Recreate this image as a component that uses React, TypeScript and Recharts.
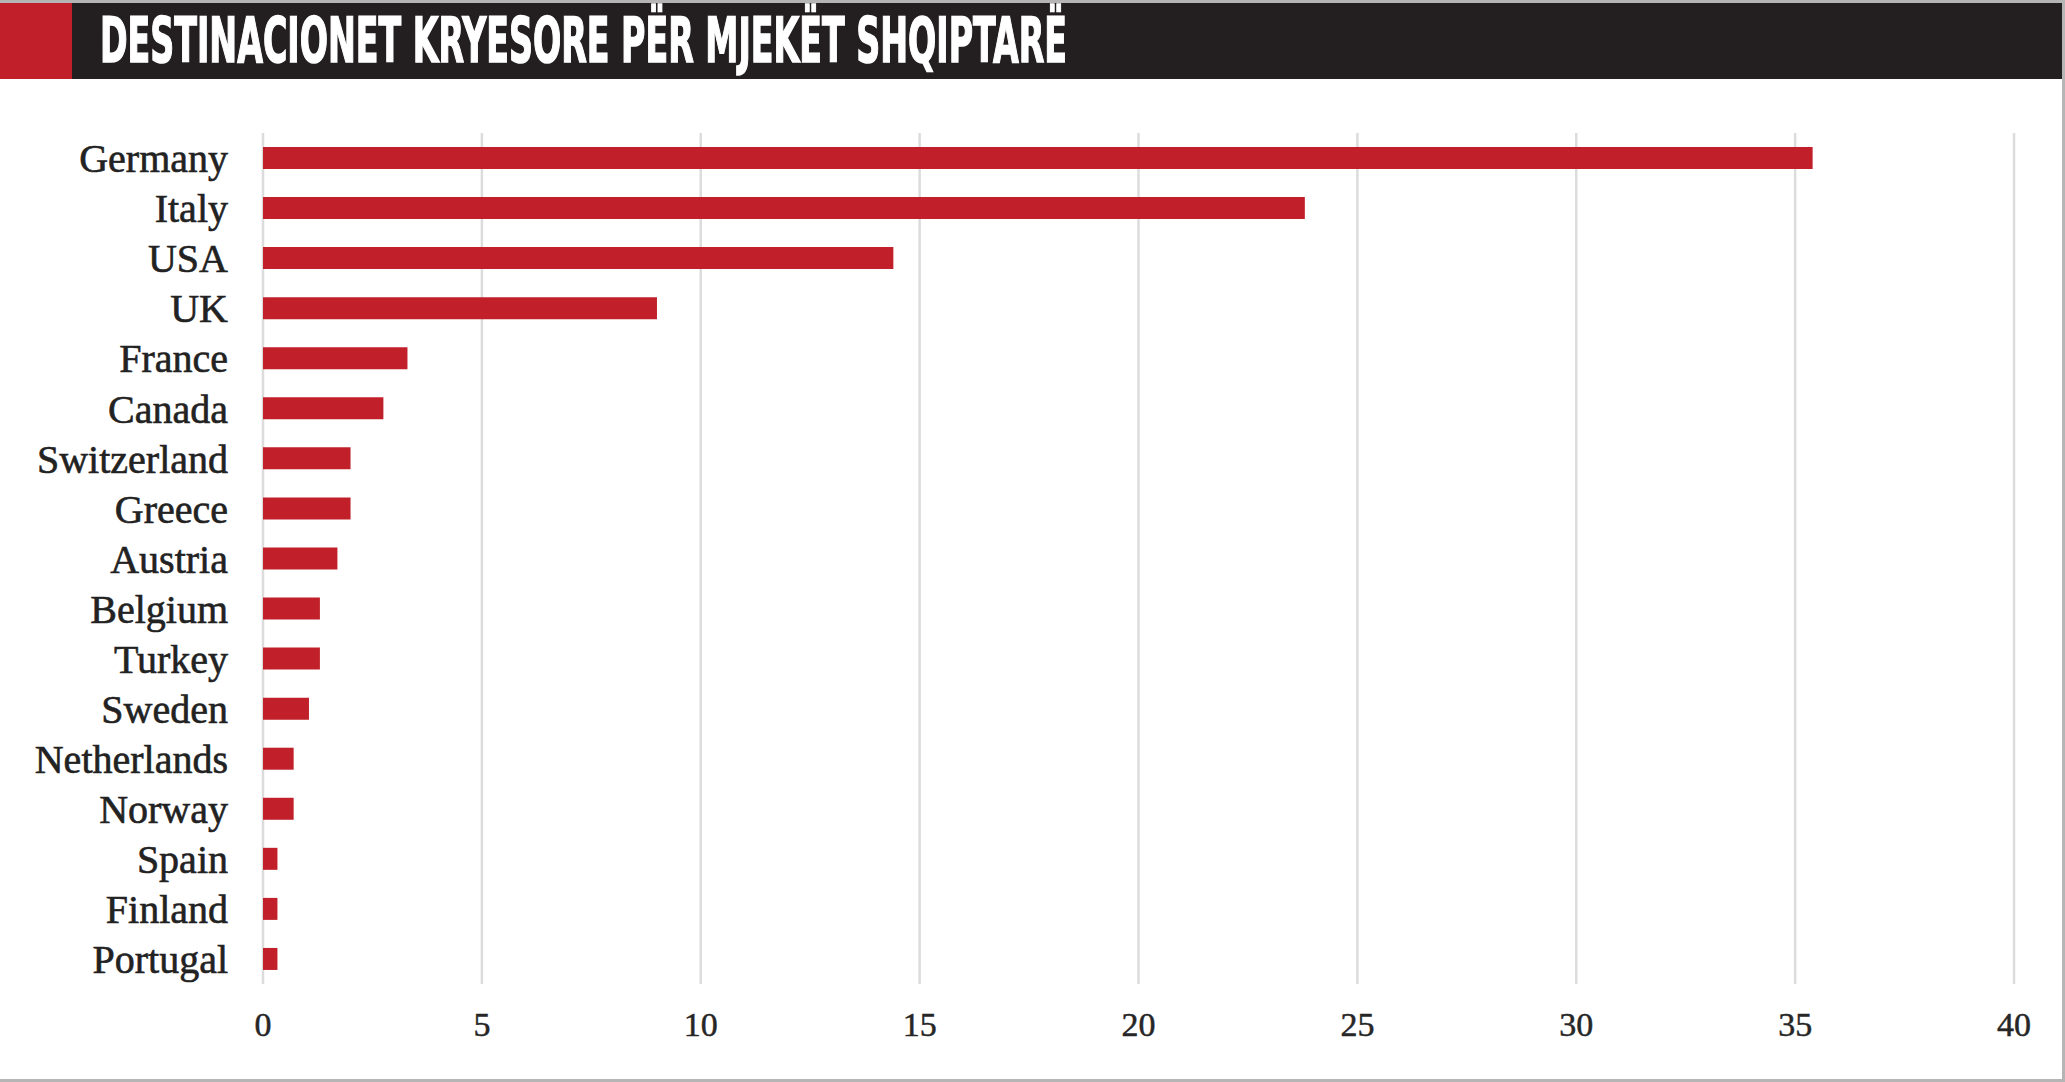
import React from 'react';
import { BarChart, Bar, XAxis, YAxis, CartesianGrid } from 'recharts';

const countries = [
    'Germany', 'Italy', 'USA', 'UK', 'France', 'Canada', 'Switzerland', 'Greece', 'Austria',
    'Belgium', 'Turkey', 'Sweden', 'Netherlands', 'Norway', 'Spain', 'Finland', 'Portugal',
];
const shares = [35.4, 23.8, 14.4, 9.0, 3.3, 2.75, 2.0, 2.0, 1.7, 1.3, 1.3, 1.05, 0.7, 0.7, 0.33, 0.33, 0.33];
const xTicks = [0, 5, 10, 15, 20, 25, 30, 35, 40];
const title = 'DESTINACIONET KRYESORE PËR MJEKËT SHQIPTARË';

const chartData = countries.map((name, i) => ({ name, value: shares[i] }));

const App: React.FC = () => {
    return (
        <div
            style={{
                position: 'absolute',
                left: 0,
                top: 0,
                width: 2065,
                height: 1082,
                background: '#fff',
                overflow: 'hidden',
            }}
        >
            {/* header band */}
            <svg width={2065} height={82} style={{ position: 'absolute', left: 0, top: 0 }}>
                <rect x={0} y={0} width={2065} height={3} fill="#b5b5b5" />
                <rect x={0} y={3} width={2062} height={76} fill="#231f20" />
                <rect x={0} y={3} width={72} height={76} fill="#c1202a" />
                <text
                    x={100}
                    y={62}
                    fill="#ffffff"
                    stroke="#ffffff"
                    strokeWidth={1.5}
                    fontSize={63}
                    fontWeight="bold"
                    fontFamily="'DejaVu Sans Condensed', 'DejaVu Sans', sans-serif"
                    textLength={967}
                    lengthAdjust="spacingAndGlyphs"
                >
                    {title}
                </text>
            </svg>

            <div style={{ position: 'absolute', left: 0, top: 0 }}>
                <BarChart
                    width={2065}
                    height={1082}
                    data={chartData}
                    layout="vertical"
                    margin={{ top: 133, right: 51, left: 0, bottom: 38 }}
                >
                    <CartesianGrid horizontal={false} stroke="#dcdcdc" strokeWidth={2.5} />
                    <XAxis
                        type="number"
                        domain={[0, 40]}
                        ticks={xTicks}
                        axisLine={false}
                        tickLine={false}
                        height={60}
                        tickMargin={22}
                        tick={{
                            fill: '#262626',
                            stroke: '#262626',
                            strokeWidth: 0.5,
                            fontSize: 34,
                            fontFamily: "'Liberation Serif', serif",
                        }}
                    />
                    <YAxis
                        type="category"
                        dataKey="name"
                        width={263}
                        axisLine={false}
                        tickLine={false}
                        tickMargin={29}
                        interval={0}
                        tick={{
                            fill: '#222222',
                            stroke: '#222222',
                            strokeWidth: 0.6,
                            fontSize: 40,
                            fontFamily: "'Liberation Serif', serif",
                        }}
                    />
                    <Bar dataKey="value" fill="#c1202a" barSize={22} isAnimationActive={false} />
                </BarChart>
            </div>

            {/* frame lines */}
            <div style={{ position: 'absolute', right: 0, top: 0, width: 3, height: 1082, background: '#b5b5b5' }} />
            <div style={{ position: 'absolute', left: 0, bottom: 0, width: 2065, height: 3, background: '#b5b5b5' }} />
        </div>
    );
};

export default App;
